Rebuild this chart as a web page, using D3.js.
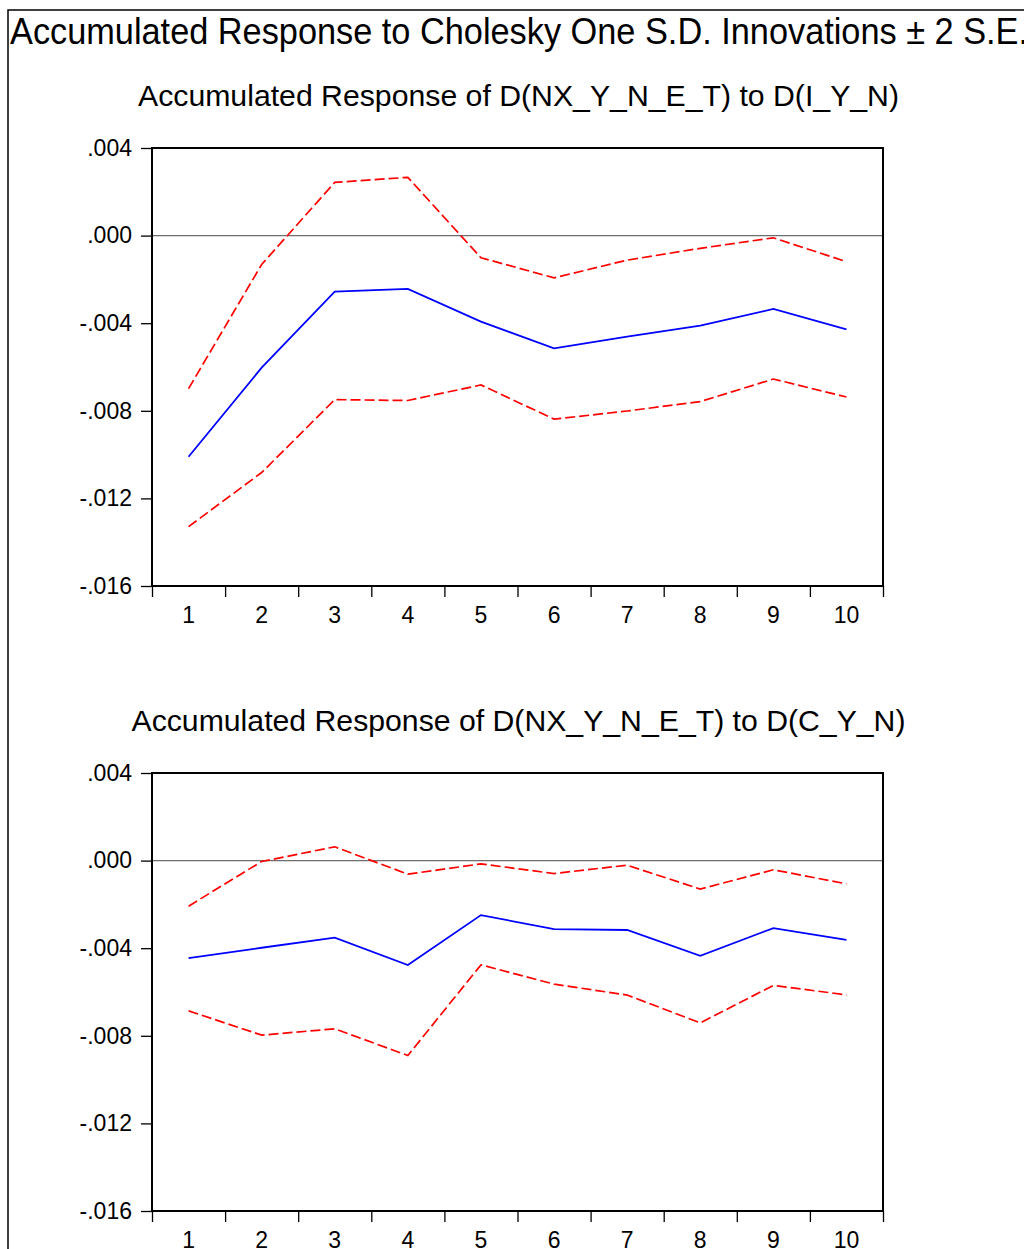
<!DOCTYPE html>
<html><head><meta charset="utf-8">
<script src="https://cdn.jsdelivr.net/npm/d3@7/dist/d3.min.js"></script>
<style>body{margin:0;background:#fff}svg{display:block}text{font-family:"Liberation Sans",Arial,sans-serif;fill:#000}</style>
</head><body>
<svg id="chart" width="1024" height="1249"></svg>
<script>
const mainTitle = "Accumulated Response to Cholesky One S.D. Innovations \u00b1 2 S.E.";
const periods = [1,2,3,4,5,6,7,8,9,10];
const yTicks = [0.004, 0, -0.004, -0.008, -0.012, -0.016];
const yTickLabels = [".004", ".000", "-.004", "-.008", "-.012", "-.016"];

const title1 = "Accumulated Response of D(NX_Y_N_E_T) to D(I_Y_N)";
const resp1  = [-0.01010,-0.00603,-0.00256,-0.00243,-0.00393,-0.00515,-0.00461,-0.00411,-0.00335,-0.00428];
const upper1 = [-0.00699,-0.00132, 0.00243, 0.00266,-0.00101,-0.00193,-0.00112,-0.00058,-0.00010,-0.00119];
const lower1 = [-0.01329,-0.01082,-0.00749,-0.00753,-0.00682,-0.00838,-0.00801,-0.00758,-0.00655,-0.00737];

const title2 = "Accumulated Response of D(NX_Y_N_E_T) to D(C_Y_N)";
const resp2  = [-0.00445,-0.00398,-0.00352,-0.00477,-0.00249,-0.00313,-0.00317,-0.00435,-0.00308,-0.00362];
const upper2 = [-0.00208,-0.00004, 0.00063,-0.00062,-0.00015,-0.00059,-0.00021,-0.00130,-0.00042,-0.00106];
const lower2 = [-0.00686,-0.00797,-0.00768,-0.00890,-0.00476,-0.00564,-0.00614,-0.00741,-0.00570,-0.00613];

const svg = d3.select("#chart");
// outer frame
svg.append("rect").attr("x",8).attr("y",10).attr("width",1040).attr("height",1280)
  .attr("fill","none").attr("stroke","#000").attr("stroke-width",1.5);
svg.append("text").attr("x",10).attr("y",44).attr("font-size",36)
  .attr("textLength",1018).attr("lengthAdjust","spacingAndGlyphs").text(mainTitle);

function panel(top, title, titleLen, resp, upper, lower){
  const left = 152, right = 883, bottom = top + 438;
  const x = d3.scaleLinear().domain([0.5,10.5]).range([left,right]);
  const y = d3.scaleLinear().domain([-0.016,0.004]).range([bottom,top]);
  const g = svg.append("g");
  g.append("text").attr("x",(left+right)/2 + 1).attr("y",top-42).attr("text-anchor","middle")
    .attr("font-size",30).attr("textLength",titleLen).attr("lengthAdjust","spacingAndGlyphs").text(title);
  // zero line
  g.append("line").attr("x1",left).attr("x2",right).attr("y1",y(0)).attr("y2",y(0))
    .attr("stroke","#6e6e6e").attr("stroke-width",1.2);
  // y axis
  const ya = d3.axisLeft(y).tickValues(yTicks).tickSize(11).tickPadding(9)
    .tickFormat((d,i)=>yTickLabels[i]);
  const yg = g.append("g").attr("transform",`translate(${left},0)`).call(ya);
  yg.select(".domain").remove();
  yg.selectAll("line").attr("stroke","#000").attr("stroke-width",1.3);
  yg.selectAll("text").attr("font-size",23).attr("font-family","Liberation Sans, Arial, sans-serif").attr("fill","#000");
  // x axis ticks at boundaries
  const xa = d3.axisBottom(x).tickValues(d3.range(0.5,11,1)).tickSize(11).tickFormat("");
  const xg = g.append("g").attr("transform",`translate(0,${bottom})`).call(xa);
  xg.select(".domain").remove();
  xg.selectAll("line").attr("stroke","#000").attr("stroke-width",1.3);
  g.selectAll(".xl").data(periods).enter().append("text").attr("class","xl")
    .attr("x",d=>x(d)).attr("y",bottom+37).attr("text-anchor","middle").attr("font-size",23).text(d=>d);
  // lines
  const line = d3.line().x((d,i)=>x(periods[i])).y(d=>y(d));
  g.append("path").datum(upper).attr("d",line).attr("fill","none").attr("stroke","#ff0000")
    .attr("stroke-width",1.7).attr("stroke-dasharray","10,4");
  g.append("path").datum(lower).attr("d",line).attr("fill","none").attr("stroke","#ff0000")
    .attr("stroke-width",1.7).attr("stroke-dasharray","10,4");
  g.append("path").datum(resp).attr("d",line).attr("fill","none").attr("stroke","#0000ff")
    .attr("stroke-width",1.8);
  // frame
  g.append("rect").attr("x",left).attr("y",top).attr("width",right-left).attr("height",bottom-top)
    .attr("fill","none").attr("stroke","#000").attr("stroke-width",2);
}
panel(148, title1, 761, resp1, upper1, lower1);
panel(773, title2, 774, resp2, upper2, lower2);
</script>
</body></html>
